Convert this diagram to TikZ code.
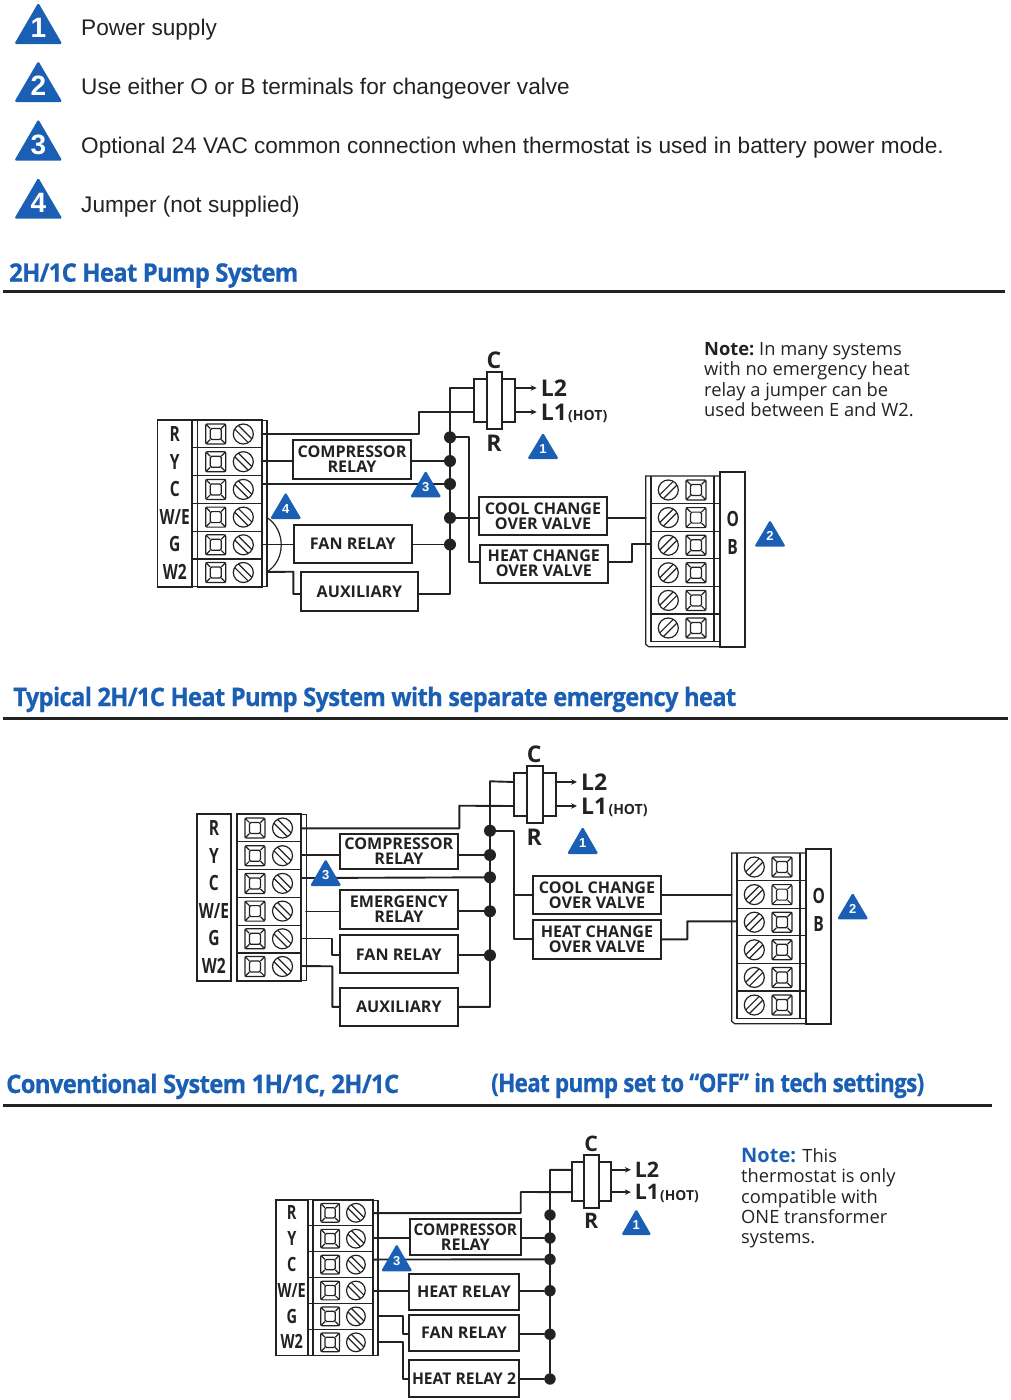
\documentclass[tikz,border=0pt]{standalone}
\usepackage{fontspec}
\usepackage{graphicx}
\usetikzlibrary{arrows.meta}
\setmainfont{Liberation Sans}
\newfontfamily\os{Open Sans}
\newfontfamily\hdf{Open Sans}[LetterSpace=-3,BoldFeatures={FakeBold=0.6}]
\definecolor{tblue}{HTML}{1A5FB4}
\definecolor{ink}{HTML}{222222}
\tikzset{
  wire/.style={draw=ink,line width=1.9pt,line cap=round,line join=round},
  thin part/.style={draw=ink,line width=1.2pt},
  outl/.style={draw=ink,line width=1.8pt},
  arrowwire/.style={wire,-{Stealth[length=6pt,width=5.5pt]}},
  jdot/.style={circle,fill=ink,minimum size=12pt,inner sep=0pt},
  relay/.style={draw=ink,line width=2pt,fill=white,inner sep=0pt,outer sep=0pt,align=center,anchor=north west,
     font=\os\bfseries\fontsize{16.1}{15}\selectfont,text=ink},
  termlab/.style={font=\os\bfseries\fontsize{21}{21}\selectfont,text=ink,inner sep=0pt},
  biglab/.style={font=\os\bfseries\fontsize{23}{23}\selectfont,text=ink,inner sep=0pt},
  hotlab/.style={font=\os\bfseries\fontsize{14}{14}\selectfont,text=ink,inner sep=0pt,anchor=west},
  legend/.style={font=\fontsize{22.6}{24}\selectfont,text=ink,anchor=base west,inner sep=0pt},
  heading/.style={font=\hdf\bfseries\fontsize{25.5}{26}\selectfont,text=tblue,anchor=base west,inner sep=0pt},
  rulebar/.style={draw=ink,line width=3pt},
  notetext/.style={font=\os\fontsize{18.3}{20.4}\selectfont,text=ink,align=left,anchor=north west,inner sep=0pt},
  badgenum/.style={text=white,inner sep=0pt},
}
% cx, apex y, base y, half width, number, font size, name
\newcommand{\badge}[7]{%
  \fill[tblue,rounded corners=1.6pt] (#1,#2) -- (#1+#4,#3) -- (#1-#4,#3) -- cycle;
  \node[badgenum,font=\bfseries\fontsize{#6}{#6}\selectfont] (#7) at (#1,{#2+0.61*(#3-#2)}) {#5};
}
% square terminal icon and slotted screw
\newcommand{\squareicon}[2]{%
  \begin{scope}[shift={(#1,#2)}]
    \draw[thin part,rounded corners=1.5pt] (-10,-10) rectangle (10,10);
    \draw[thin part,rounded corners=1.5pt] (-5.5,-5.5) rectangle (5.5,5.5);
    \draw[thin part] (-10,-10) -- (-5.5,-5.5) (10,-10) -- (5.5,-5.5) (-10,10) -- (-5.5,5.5) (10,10) -- (5.5,5.5);
  \end{scope}}
\newcommand{\screwicon}[3]{%
  \begin{scope}[shift={(#1,#2)},rotate=#3]
    \draw[thin part] (0,0) circle (10);
    \draw[thin part] (-9.5,-2.6) -- (9.5,-2.6) (-9.5,2.6) -- (9.5,2.6);
  \end{scope}}
% thermostat terminal block: prefix, x, y, scale, left edge of row lines
\newcommand{\leftblock}[5]{%
  \begin{scope}[shift={(#2,#3)},scale=#4,transform shape]
    \draw[outl] (0,0) rectangle (34.5,166.7);
    \draw[outl] (40,0) rectangle (104.2,166.7);
    \draw[thin part] (104.2,0.8) -- (109.4,0.8) -- (109.4,166.7) -- (104.2,166.7);
    \foreach \k in {1,...,5} \draw[thin part] (#5,27.8*\k) -- (104.2,27.8*\k);
    \ifdim #5pt<40pt \draw[thin part] (34.5,0) -- (40,0) (34.5,166.7) -- (40,166.7); \fi
    \foreach \k in {0,...,5} {
      \squareicon{58.2}{14+27.7*\k}
      \screwicon{85.8}{14+27.7*\k}{-45}
    }
    \foreach \k/\t in {0/R,1/Y,2/C,3/{W/E},4/G,5/W2}
      \node[termlab] at (17.2,14+27.6*\k) {\scalebox{.74}[1]{\t}};
    \coordinate (#1p1) at (104.2,14.3);
    \coordinate (#1p2) at (104.2,41);
    \coordinate (#1p3) at (104.2,64);
    \coordinate (#1p4) at (104.2,97.5);
    \coordinate (#1p5) at (104.2,124.5);
    \coordinate (#1p6) at (104.2,152);
    \coordinate (#1q4) at (109.4,97.5);
    \coordinate (#1q5) at (109.4,124.5);
    \coordinate (#1q6) at (109.4,152);
  \end{scope}}
% valve terminal block: prefix, x, y
\newcommand{\rightblock}[3]{%
  \begin{scope}[shift={(#2,#3)}]
    \draw[outl] (74.3,0) rectangle (99.6,174.4);
    \draw[thin part] (74.3,3.7) -- (0,3.7) -- (0,172) -- (3,174.4) -- (74.3,174.4);
    \draw[thin part] (5.3,3.7) -- (5.3,169.1) -- (74.3,169.1);
    \draw[thin part] (68.3,3.7) -- (68.3,169.1);
    \foreach \k in {1,...,5} \draw[thin part] (5.3,3.7+27.6*\k) -- (74.3,3.7+27.6*\k);
    \foreach \k in {0,...,5} {
      \screwicon{22.6}{17.7+27.6*\k}{45}
      \squareicon{50.3}{17.7+27.6*\k}
    }
    \node[termlab] at (87,46.7) {\scalebox{.74}[1]{O}};
    \node[termlab] at (87,74.6) {\scalebox{.74}[1]{B}};
    \coordinate (#1r2) at (0,45.4);
    \coordinate (#1r3) at (5.3,72);
  \end{scope}}
% transformer: prefix, x, y, scale, scale of the small text
\newcommand{\xfmr}[5]{%
  \begin{scope}[shift={(#2,#3)},scale=#4,transform shape]
    \coordinate (#1a) at (0,8.7);
    \coordinate (#1b) at (0,32.7);
    \coordinate (#1c) at (41.6,8.7);
    \coordinate (#1d) at (41.6,32.7);
    \coordinate (#1e) at (63,8.7);
    \coordinate (#1f) at (63,32.7);
    \draw[outl,fill=white] (0,0) rectangle (41.6,42.4);
    \draw[outl,fill=white] (13,-7.3) rectangle (28.6,50);
    \draw[arrowwire] (#1c) -- (#1e);
    \draw[arrowwire] (#1d) -- (#1f);
    \node[biglab,anchor=west] (#1L2) at (67,8.7) {L2};
    \node[biglab,anchor=west] (#1L1) at (67,32.7) {L1};
    \node[hotlab] at (94.3,37) {\scalebox{#5}{(HOT)}};
    \node[biglab] (#1C) at (20.3,-19.3) {C};
    \node[biglab] (#1R) at (20.3,63.7) {R};
  \end{scope}}
% relay box: name, x0, y0, x1, y1, text
\newcommand{\relaybox}[6]{%
  \pgfmathsetmacro\rw{#4-#2}\pgfmathsetmacro\rh{#5-#3}%
  \node[relay,minimum width=\rw pt,minimum height=\rh pt] (#1) at (#2,#3) {#6};}
\newcommand{\hdg}[5]{\node[heading] (#1) at (#2,#3) {\resizebox{#4pt}{\height}{#5}};}
\begin{document}
\begin{tikzpicture}[x=1pt,y=-1pt]
\useasboundingbox (0,0) rectangle (1010,1400);

% Legend
\badge{38.3}{2.7}{44}{24}{1}{28}{leg1}
\badge{38.3}{61}{102}{24}{2}{28}{leg2}
\badge{38.3}{119.3}{160.7}{24}{3}{28}{leg3}
\badge{38.3}{177.7}{218.7}{24}{4}{28}{leg4}
\node[legend] (t1) at (81,35.7) {Power supply};
\node[legend] (t2) at (81,94.3) {Use either O or B terminals for changeover valve};
\node[legend] (t3) at (81,153) {Optional 24 VAC common connection when thermostat is used in battery power mode.};
\node[legend] (t4) at (81,212) {Jumper (not supplied)};

% Headings
\hdg{h1}{9}{281.7}{289}{2H/1C Heat Pump System}
\draw[rulebar] (3,291) -- (1005,291);
\hdg{h2}{13}{706}{723}{Typical 2H/1C Heat Pump System with separate emergency heat}
\draw[rulebar] (3,718) -- (1008,718);
\hdg{h3}{6}{1093}{393}{Conventional System 1H/1C, 2H/1C}
\hdg{h4}{491}{1092}{433}{(Heat pump set to “OFF” in tech settings)}
\draw[rulebar] (3,1105) -- (992,1105);

% ---------- Diagram 1 ----------
\leftblock{A}{157.5}{420}{1}{34.5}
\rightblock{B}{645.7}{472.3}
\xfmr{X}{473.7}{379.3}{1}{1}
\node[jdot] (d11) at (450,437.3) {};
\node[jdot] (d12) at (450,461) {};
\node[jdot] (d13) at (450,484) {};
\node[jdot] (d14) at (450,517.9) {};
\node[jdot] (d15) at (450,544.5) {};
\relaybox{cmp1}{293.3}{440}{410.7}{478.7}{COMPRESSOR\\RELAY}
\relaybox{fan1}{294}{525}{411.7}{563}{FAN RELAY}
\relaybox{aux1}{300.7}{572.3}{418.3}{611}{AUXILIARY}
\relaybox{cool1}{479.3}{496.7}{606.7}{535}{COOL CHANGE\\OVER VALVE}
\relaybox{heat1}{480}{544.7}{607.7}{582.7}{HEAT CHANGE\\OVER VALVE}
\draw[wire] (Ap1) -| (419.3,412) -- (Xb);
\draw[wire] (Xa) -- (450,388) -- (450,594) -- (aux1.east |- 0,594);
\draw[wire] (Ap2) -- (cmp1.west |- Ap2);
\draw[wire] (cmp1.east |- d12) -- (d12);
\draw[wire] (Ap3) -- (d13);
\draw[wire] (Ap5) -- (fan1.west |- Ap5);
\draw[wire] (fan1.east |- d15) -- (d15);
\draw[wire] (Aq6) -- (293.3,571.7) -- (293.3,594) -- (aux1.west |- 0,594);
\draw[wire] (d11) -| (469.3,562.3) -- (heat1.west |- 0,562.3);
\draw[wire] (d14) -- (cool1.west |- d14);
\draw[wire] (cool1.east |- Br2) -- (Br2);
\draw[wire] (heat1.east |- 0,562.3) -- (632,562.3) |- (Br3);
\draw[thin part] (Aq4) .. controls (286,530) and (286,560) .. (Aq6);
\badge{543}{432.7}{459}{15.7}{1}{13}{b11}
\badge{770}{520}{546.7}{15.7}{2}{13}{b12}
\badge{425.7}{470.7}{497.3}{15.7}{3}{13}{b13}
\badge{285.7}{492.3}{519}{15.7}{4}{13}{b14}
\node[notetext] (n1) at (704,342) {\textbf{Note:}\hspace{-1.5pt} In many systems\\with no emergency heat\\relay a jumper can be\\used between E and W2.};

% ---------- Diagram 2 ----------
\leftblock{C}{196.7}{814}{1}{40}
\rightblock{D}{731.7}{849.3}
\xfmr{Y}{514}{773.3}{1}{1}
\node[jdot] (d21) at (490,830.7) {};
\node[jdot] (d22) at (490,855) {};
\node[jdot] (d23) at (490,877.3) {};
\node[jdot] (d24) at (490,911.3) {};
\node[jdot] (d25) at (490,955.3) {};
\relaybox{cmp2}{340}{834.3}{457.7}{869}{COMPRESSOR\\RELAY}
\relaybox{emg2}{340}{890.3}{457.7}{928.7}{EMERGENCY\\RELAY}
\relaybox{fan2}{340}{935.3}{457.7}{973.3}{FAN RELAY}
\relaybox{aux2}{340}{987.7}{457.7}{1026}{AUXILIARY}
\relaybox{cool2}{533.3}{875.7}{660.7}{914.3}{COOL CHANGE\\OVER VALVE}
\relaybox{heat2}{533.3}{920}{660.7}{958.7}{HEAT CHANGE\\OVER VALVE}
\draw[wire] (Cp1) -| (459.3,805.7) -- (Yb);
\draw[wire] (Ya) -- (490,781.3) -- (490,1006.85) -- (aux2.east);
\draw[wire] (Cp2) -- (cmp2.west |- Cp2);
\draw[wire] (cmp2.east |- d22) -- (d22);
\draw[wire] (Cp3) -- (d23);
\draw[wire] (Cq4) -- (emg2.west |- Cq4);
\draw[wire] (emg2.east |- d24) -- (d24);
\draw[wire] (Cp5) -| (332.3,955.3) -- (fan2.west |- d25);
\draw[wire] (fan2.east |- d25) -- (d25);
\draw[wire] (Cp6) -- (332.3,966.3) |- (aux2.west);
\draw[wire] (d21) -- (514.3,830.7) |- (heat2.west);
\draw[wire] (514.3,895) -- (cool2.west);
\draw[wire] (cool2.east) -- (cool2.east -| Dr2);
\draw[wire] (heat2.east) -- (687.3,939.35) |- (Dr3);
\badge{582.7}{826.7}{854}{15.7}{1}{13}{b21}
\badge{852.7}{892.7}{919.3}{15.7}{2}{13}{b22}
\badge{325.7}{859}{886}{15.7}{3}{13}{b23}

% ---------- Diagram 3 ----------
\leftblock{E}{275.7}{1199.7}{.935}{34.5}
\xfmr{Z}{572.3}{1161.7}{.93}{1.06}
\node[jdot,minimum size=11.4pt] (d31) at (550,1215) {};
\node[jdot,minimum size=11.4pt] (d32) at (550,1238) {};
\node[jdot,minimum size=11.4pt] (d33) at (550,1259.3) {};
\node[jdot,minimum size=11.4pt] (d34) at (550,1290.7) {};
\node[jdot,minimum size=11.4pt] (d35) at (550,1334.3) {};
\node[jdot,minimum size=11.4pt] (d36) at (550,1379) {};
\relaybox{cmp3}{410}{1219}{520.7}{1255.3}{\scalebox{.95}[1]{COMPRESSOR}\\RELAY}
\relaybox{hr3}{409}{1274}{519}{1310.3}{HEAT RELAY}
\relaybox{fan3}{409}{1315}{519}{1351}{FAN RELAY}
\relaybox{hr23}{409}{1360.3}{519}{1396.7}{\scalebox{.97}[1]{HEAT RELAY 2}}
\draw[wire] (Ep1) -| (520.7,1192) -- (Zb);
\draw[wire] (Za) -- (550,1169.8) -- (d36);
\draw[wire] (Ep2) -- (cmp3.west |- Ep2);
\draw[wire] (cmp3.east |- d32) -- (d32);
\draw[wire] (Ep3) -- (d33);
\draw[wire] (Ep4) -- (hr3.west |- Ep4);
\draw[wire] (hr3.east |- d34) -- (d34);
\draw[wire] (Eq5) -| (402.7,1334.3) -- (fan3.west |- d35);
\draw[wire] (fan3.east |- d35) -- (d35);
\draw[wire] (Eq6) -| (402.7,1379) -- (hr23.west |- d36);
\draw[wire] (hr23.east |- d36) -- (d36);
\badge{636.3}{1209}{1235}{15}{1}{13}{b31}
\badge{396.7}{1244}{1271.3}{15.7}{3}{13}{b33}
\node[notetext] (n3) at (741,1168.5) {thermostat is only\\compatible with\\ONE transformer\\systems.};
\node[notetext,anchor=base west] (n3a) at (741,1162) {\textcolor{tblue}{\bfseries\fontsize{20}{20}\selectfont Note:} This};
\end{tikzpicture}
\end{document}
